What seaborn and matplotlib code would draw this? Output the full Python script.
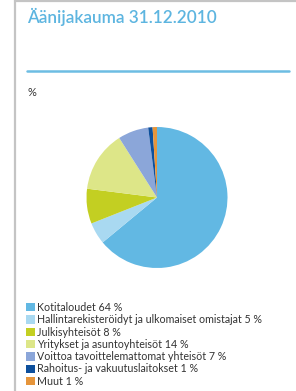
import matplotlib
matplotlib.use("Agg")
import matplotlib.pyplot as plt
import matplotlib.patches as mpatches
import seaborn as sns

# data
labels = [
    "Kotitaloudet 64 %",
    "Hallintarekisteröidyt ja ulkomaiset omistajat 5 %",
    "Julkisyhteisöt 8 %",
    "Yritykset ja asuntoyhteisöt 14 %",
    "Voittoa tavoittelemattomat yhteisöt 7 %",
    "Rahoitus- ja vakuutuslaitokset 1 %",
    "Muut 1 %",
]
shares = [64, 5, 8, 14, 7, 1, 1]
colors = ["#62b8e3", "#a9d9f1", "#c3cf22", "#dde688", "#8ba6d9", "#0d4f9c", "#e6953b"]

sns.set_style("white")
plt.rcParams['font.family'] = ['Lato', 'DejaVu Sans']

fig = plt.figure(figsize=(2.96, 3.91), dpi=100)
W, H = 296, 391

# frame lines (gray) at top and left
fig.add_artist(plt.Line2D([15/W, 1], [1 - 1/H, 1 - 1/H], color="#c4c4c4", lw=1.6))
fig.add_artist(plt.Line2D([15/W, 15/W], [0, 1], color="#c4c4c4", lw=1.6))

# title and rule
fig.text(27/W, 1 - 23/H, "Äänijakauma 31.12.2010", color="#5db5e0",
         fontsize=12.3, fontweight="semibold", va="baseline", ha="left")
fig.add_artist(plt.Line2D([27/W, 289/W], [1 - 71/H, 1 - 71/H], color="#6dbde3", lw=1.8))
fig.text(27/W, 1 - 96/H, "%", color="#333333", fontsize=8, va="baseline", ha="left")

# pie
ax = fig.add_axes([86.5/W, 1 - 268/H, 141/W, 141/H])
ax.pie(shares, colors=colors, startangle=90, counterclock=False,
       wedgeprops={"linewidth": 0})
ax.set_xlim(-1, 1)
ax.set_ylim(-1, 1)
ax.set_aspect("equal")
ax.axis("off")

# legend
handles = [mpatches.Patch(facecolor=c, edgecolor="none") for c in colors]
fig.legend(handles, labels, loc="upper left", bbox_to_anchor=(26/W, 1 - 302/H),
           frameon=False, fontsize=7.7, handlelength=0.8, handleheight=0.8,
           handletextpad=0.25, labelspacing=0.12, borderpad=0, borderaxespad=0,
           labelcolor="#333333")

fig.savefig("out.png", dpi=100)
